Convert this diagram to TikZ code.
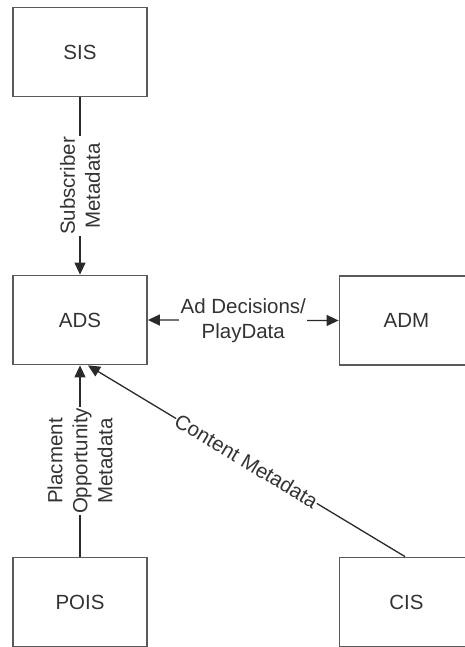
\documentclass[tikz,border=0pt]{standalone}
\usepackage{fontspec}
\setmainfont{Liberation Sans}
\usetikzlibrary{arrows.meta,calc}
\definecolor{boxline}{HTML}{5A5A5A}
\definecolor{txt}{HTML}{333333}
\definecolor{conn}{HTML}{2A2A2A}
\begin{document}
\begin{tikzpicture}[x=1pt,y=-1pt,
  every node/.style={font=\fontsize{20.5}{25}\selectfont, text=txt},
  sysbox/.style={draw=boxline, line width=1.8pt, minimum width=134pt, minimum height=89pt, inner sep=0pt, fill=white},
  conn/.style={draw=conn, line width=1.3pt},
  tip/.style={-{Triangle[length=12pt,width=11pt]}},
  lbl/.style={fill=white, align=center, inner sep=1.5pt}]
\useasboundingbox (0,0) rectangle (465,647);
\clip (0,0) rectangle (465,647);
\node[sysbox] (SIS)  at (80,52)    {SIS};
\node[sysbox] (ADS)  at (80,320)   {ADS};
\node[sysbox] (ADM)  at (406.5,320.5) {ADM};
\node[sysbox] (POIS) at (80,602)   {POIS};
\node[sysbox] (CIS)  at (406.5,602)  {CIS};
\coordinate (adsC) at ($(ADS.south)+(8,0)$);
\coordinate (cisT) at ($(CIS.north)+(-1.5,0)$);
\draw[conn,tip] (SIS.south) -- node[lbl,rotate=90] {Subscriber\\Metadata} (ADS.north);
\draw[conn,{Triangle[length=12pt,width=11pt]}-{Triangle[length=12pt,width=11pt]}] (ADS.east) -- node[lbl] {Ad Decisions/\\PlayData} (ADM.west);
\draw[conn,tip] (POIS.north) -- node[lbl,rotate=90] {Placment\\Opportunity\\Metadata} (ADS.south);
\draw[conn,tip] (cisT) -- node[lbl,sloped,inner sep=0.5pt] {Content Metadata} (adsC);
\end{tikzpicture}
\end{document}
